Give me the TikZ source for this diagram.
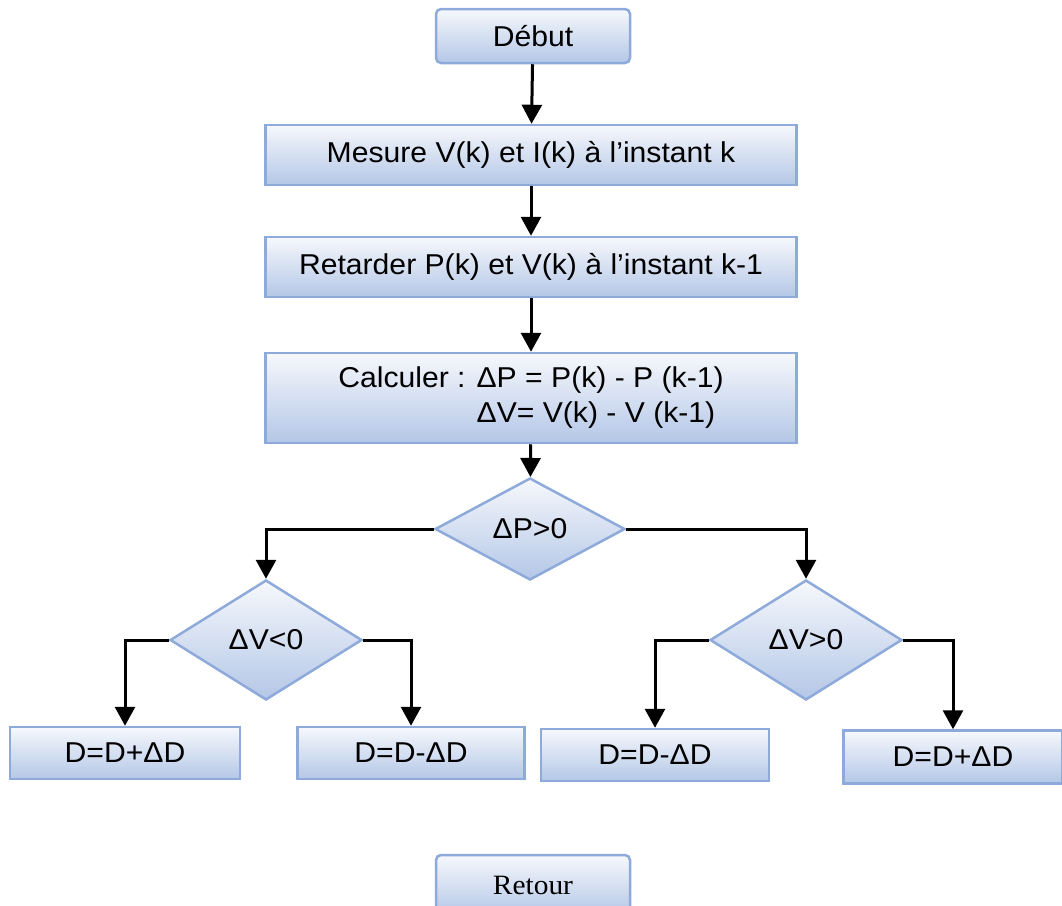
\documentclass[tikz,border=0pt]{standalone}
\usepackage{fontspec}
\setmainfont{Liberation Sans}[FakeStretch=1.05]
\newfontfamily\retourfont{Liberation Serif}[FakeStretch=1.05]
\usetikzlibrary{arrows.meta,shapes.geometric}
\definecolor{boxline}{HTML}{8EAADB}
\definecolor{boxtop}{HTML}{F6F8FC}
\definecolor{boxbottom}{HTML}{B4C7E7}
\begin{document}
\begin{tikzpicture}[
        x=1pt, y=-1pt,
        font=\fontsize{28.7}{34}\selectfont,
        >={Triangle[length=19pt,width=20pt]},
        block/.style = {
            rectangle, draw=boxline, line width=2.5pt,
            top color=boxtop, bottom color=boxbottom,
            inner sep=0pt, minimum width=#1
        },
        block/.default = 531,
        term/.style = {block=194, rounded corners=5pt, minimum height=54},
        test/.style = {
            diamond, draw=boxline, line width=2.5pt,
            top color=boxtop, bottom color=boxbottom,
            inner sep=0pt, minimum width=#1
        },
        flow/.style = {->, line width=3pt}
    ]
        \useasboundingbox (0,0) rectangle (1062,905);

        \node[term] (debut) at (533, 36){Début};
        \node[block, minimum height=60] (mesure) at (531,155){Mesure V(k) et I(k) à l’instant k};
        \node[block, minimum height=60] (retard) at (531,267){Retarder P(k) et V(k) à l’instant k-1};
        \node[block, minimum height=90] (calcul) at (531,398){%
            \renewcommand\arraystretch{1.04}%
            \begin{tabular}{@{}l@{\hspace{11pt}}l@{}}
                Calculer : & ΔP = P(k) - P (k-1)\\
                           & ΔV= V(k) - V (k-1)
            \end{tabular}};

        \node[test=190, minimum height=102] (dP)  at (530,529){ΔP>0};
        \node[test=192, minimum height=120] (dVn) at (266,640){ΔV<0};
        \node[test=192, minimum height=120] (dVp) at (806,640){ΔV>0};

        \node[block=230, minimum height=52] (incA) at (125,753){D=D+ΔD};
        \node[block=227, minimum height=52] (decA) at (411,753){D=D-ΔD};
        \node[block=228, minimum height=52] (decB) at (655,755){D=D-ΔD};
        \node[block=219, minimum height=53] (incB) at (953,757){D=D+ΔD};

        \node[term, minimum height=60, font=\retourfont\fontsize{28}{33}\selectfont] (retour) at (533,885){Retour};

        \draw[flow] (debut) -- (mesure);
        \draw[flow] (mesure) -- (retard);
        \draw[flow] (retard) -- (calcul);
        \draw[flow] (calcul) -- (dP);

        \draw[flow] (dP.west) -| (dVn.north);
        \draw[flow] (dP.east) -| (dVp.north);
        \draw[flow] (dVn.west) -| (incA.north);
        \draw[flow] (dVn.east) -| (decA.north);
        \draw[flow] (dVp.west) -| (decB.north);
        \draw[flow] (dVp.east) -| (incB.north);
    \end{tikzpicture}
\end{document}
